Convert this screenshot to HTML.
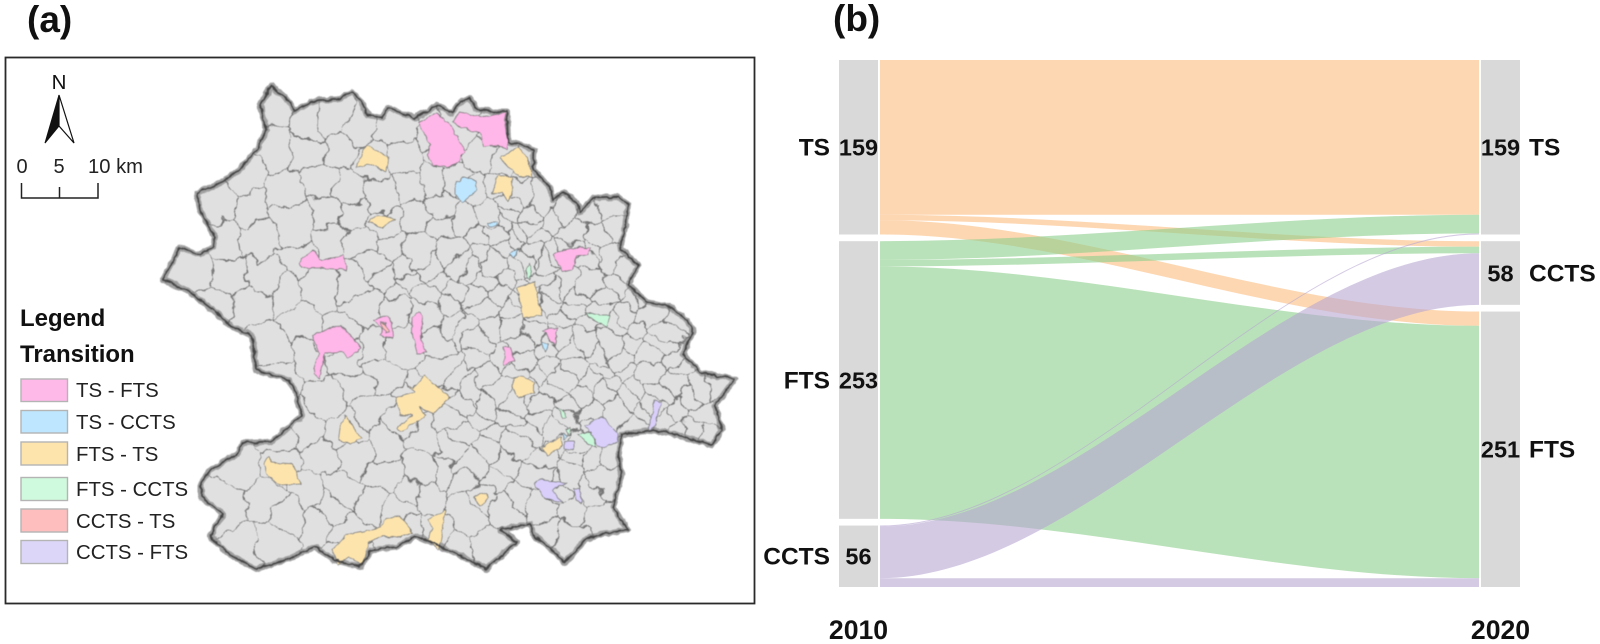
<!DOCTYPE html>
<html lang="en">
<head>
<meta charset="utf-8">
<title>Transition map and alluvial chart</title>
<style>
html,body{margin:0;padding:0;background:#fff;}
svg{display:block;font-family:"Liberation Sans",Arial,sans-serif;}
.b{font-weight:bold;fill:#111;}
.leg{font-size:20.4px;fill:#222;}
</style>
</head>
<body>
<svg xmlns="http://www.w3.org/2000/svg" width="1600" height="644" viewBox="0 0 1600 644">
<defs>
<filter id="rough" filterUnits="userSpaceOnUse" x="130" y="70" width="630" height="530" color-interpolation-filters="sRGB">
<feTurbulence type="fractalNoise" baseFrequency="0.13" numOctaves="2" seed="7" result="n"/>
<feDisplacementMap in="SourceGraphic" in2="n" scale="4.5" xChannelSelector="R" yChannelSelector="G"/>
<feGaussianBlur stdDeviation="0.45"/>
</filter>
<filter id="warp" filterUnits="userSpaceOnUse" x="130" y="70" width="630" height="530" color-interpolation-filters="sRGB">
<feTurbulence type="fractalNoise" baseFrequency="0.035" numOctaves="3" seed="21" result="w"/>
<feDisplacementMap in="SourceGraphic" in2="w" scale="24" xChannelSelector="R" yChannelSelector="G"/>
</filter>
<clipPath id="regionClip"><polygon id="clipPoly" points=""/></clipPath>
</defs>

<text class="b" x="27" y="32" font-size="37">(a)</text>
<text class="b" x="833" y="31" font-size="37">(b)</text>

<rect x="5.5" y="57.5" width="749" height="546" fill="#fff" stroke="#2a2a2a" stroke-width="1.8"/>

<g id="mapGroup" filter="url(#rough)">
<polygon id="haloPoly" points="" fill="#e0e0e0" stroke="#a0a0a0" stroke-width="6" stroke-linejoin="round"/>
<g clip-path="url(#regionClip)">
<g id="cells" filter="url(#warp)" fill="none" stroke="#727272" stroke-width="0.85"></g>
</g>
<g stroke="#777" stroke-width="0.7" stroke-linejoin="round">
<g fill="#ffb6e8">
<polygon points="418,122 437,113 452,127 460,142 465,150 458,163 447,167 433,165 428,155 430,145 423,133"/>
<polygon points="453,122 460,112 483,117 505,113 508,150 497,145 483,147 480,133 468,130 458,125"/>
<polygon points="553,255 563,250 578,247 590,248 588,255 577,257 572,270 563,272 557,262"/>
<polygon points="299,263 313,250 322,260 343,255 347,270 320,268 302,268"/>
<polygon points="373,320 387,315 392,323 393,338 380,337 383,328"/>
<polygon points="312,335 341,325 362,348 349,357 341,352 325,353 319,378 313,373 319,353"/>
<polygon points="412,317 420,312 423,318 421,336 426,353 417,353 412,333"/>
<polygon points="504,347 511,347 515,361 504,365"/>
<polygon points="543,330 558,328 554,345"/>
</g>
<g fill="#bee6ff">
<polygon points="455,185 463,177 475,180 477,190 462,203 455,195"/>
<polygon points="488,223 497,222 497,226 488,226"/>
<polygon points="510,255 518,248 515,257"/>
<polygon points="541,342 548,344 545,352"/>
<polygon points="561,433 567,435 565,440"/>
</g>
<g fill="#fde4ad">
<polygon points="500,158 517,148 528,157 532,177 520,177 508,167"/>
<polygon points="492,193 498,175 512,177 513,187 508,202 502,193"/>
<polygon points="517,287 535,282 537,297 542,315 523,318 520,300"/>
<polygon points="355,167 367,145 388,157 387,172 370,165"/>
<polygon points="368,222 378,216 395,218 383,227"/>
<polygon points="513,378 524,376 534,383 534,393 519,398 513,389"/>
<polygon points="406,383 413,388 425,375 437,387 450,397 434,414 419,407 426,416 400,432 397,428 412,415 400,415 395,398 415,392"/>
<polygon points="345,415 362,438 351,445 339,440 341,424"/>
<polygon points="269,456 271,462 293,464 301,484 280,485 269,477 264,465"/>
<polygon points="332,550 347,535 371,530 380,528 386,518 400,516 413,532 397,538 382,536 369,542 362,565 349,557 338,565"/>
<polygon points="428,520 445,510 443,526 439,550 428,540 432,528"/>
<polygon points="474,497 487,493 489,498 480,506"/>
<polygon points="541,448 561,437 563,445 548,455"/>
</g>
<g fill="#c9f7d9">
<polygon points="526,270 529,263 532,272 529,280"/>
<polygon points="585,312 597,315 610,315 607,327 593,320"/>
<polygon points="565,430 571,428 569,435"/>
<polygon points="556,406 567,416 563,418"/>
</g>
<g fill="#d9cffa">
<polygon points="585,426 602,416 617,433 617,443 600,448 591,436"/>
<polygon points="565,442 574,442 574,450 565,448"/>
<polygon points="654,400 661,402 656,426 648,430 652,416"/>
<polygon points="534,483 543,479 567,483 552,490 563,503 545,498"/>
<polygon points="574,488 580,488 582,503 576,500"/>
</g>
<polygon fill="#c9f7d9" points="578,433 591,432 597,448 585,442"/>
<polygon fill="#ffbebe" points="381,321 386,324 389,332 386,333"/>
</g>
<polygon id="borderPoly" points="" fill="none" stroke="#444" stroke-width="1.7" stroke-linejoin="round"/>
</g>

<g>
<text x="59" y="89" font-size="20.5" text-anchor="middle" fill="#111">N</text>
<polygon points="59,95 45,143 59,126" fill="#111" stroke="#111" stroke-width="1"/>
<polygon points="59,95 74,143 59,126" fill="#fff" stroke="#111" stroke-width="1.2"/>
</g>

<g>
<text x="22" y="173" font-size="20" text-anchor="middle" fill="#222">0</text>
<text x="59" y="173" font-size="20" text-anchor="middle" fill="#222">5</text>
<text x="88" y="173" font-size="20.2" fill="#222">10 km</text>
<path d="M21.5 183V198H98V183M59.5 187V198" fill="none" stroke="#222" stroke-width="1.5"/>
</g>

<g>
<text class="b" x="20" y="326" font-size="24">Legend</text>
<text class="b" x="20" y="362" font-size="24">Transition</text>
<g stroke="#b4b4b4" stroke-width="1.4">
<rect x="21" y="379" width="46.5" height="22.5" fill="#ffb9e8"/>
<rect x="21" y="410.5" width="46.5" height="22.5" fill="#bee6ff"/>
<rect x="21" y="442" width="46.5" height="23" fill="#fde4ad"/>
<rect x="21" y="477.5" width="46.5" height="23" fill="#cffadd"/>
<rect x="21" y="509" width="46.5" height="23" fill="#ffbebe"/>
<rect x="21" y="540.5" width="46.5" height="23" fill="#dcd6f9"/>
</g>
<text class="leg" x="76" y="397">TS - FTS</text>
<text class="leg" x="76" y="429">TS - CCTS</text>
<text class="leg" x="76" y="461">FTS - TS</text>
<text class="leg" x="76" y="496">FTS - CCTS</text>
<text class="leg" x="76" y="528">CCTS - TS</text>
<text class="leg" x="76" y="559">CCTS - FTS</text>
</g>

<g id="alluvial">
<g id="ribbons"></g>
<g id="nodes"></g>
<text class="b" x="858.5" y="639" font-size="26.6" text-anchor="middle">2010</text>
<text class="b" x="1500.5" y="639" font-size="26.6" text-anchor="middle">2020</text>
</g>

<script>
// ---- alluvial data ----
const leftCategories = ['TS', 'FTS', 'CCTS'];
const leftTotals = [159, 253, 56];
const rightCategories = ['TS', 'CCTS', 'FTS'];
const rightTotals = [159, 58, 251];
// each array lists the flow to TS, CCTS, FTS of 2020
const flowsFromTS = [141, 5, 13];
const flowsFromFTS = [17, 6, 230];
const flowsFromCCTS = [1, 47, 8];

// ---- map geometry (traced outline and township seed sites) ----
const outline = [[272,85],[277,92],[283,95],[295,110],[310,103],[320,100],[337,100],[352,92],[360,100],[368,115],[382,118],[388,108],[400,112],[415,118],[437,105],[452,113],[460,102],[470,98],[475,108],[493,112],[507,112],[508,142],[523,145],[534,150],[533,170],[550,187],[553,200],[563,192],[577,203],[580,213],[593,198],[618,197],[628,205],[625,227],[620,248],[638,265],[628,285],[647,302],[670,307],[687,320],[693,332],[683,353],[700,373],[735,379],[715,406],[722,430],[711,445],[678,435],[652,430],[621,435],[619,453],[621,477],[613,507],[628,530],[600,534],[585,540],[565,563],[552,550],[535,536],[530,524],[500,530],[517,542],[486,569],[456,553],[426,540],[415,536],[397,547],[371,550],[360,567],[334,560],[315,547],[286,560],[256,569],[227,553],[210,536],[223,514],[201,497],[201,483],[210,470],[238,453],[243,443],[271,442],[289,426],[302,416],[295,390],[289,380],[256,370],[252,336],[230,325],[213,310],[187,290],[163,280],[180,247],[200,255],[213,247],[215,237],[200,210],[197,193],[220,183],[240,170],[257,148],[267,130],[260,105]];
const townshipSites = [[280,112],[305,125],[335,120],[360,125],[395,130],[428,135],[445,155],[465,125],[490,130],[275,150],[305,155],[340,150],[375,160],[405,155],[430,180],[455,178],[485,155],[505,160],[525,165],[245,175],[215,205],[250,205],[285,190],[320,180],[350,185],[385,195],[410,190],[445,205],[470,195],[500,190],[520,190],[545,200],[565,210],[590,215],[610,210],[225,240],[260,240],[295,225],[325,215],[355,215],[385,225],[415,220],[440,230],[465,220],[490,215],[512,212],[530,225],[550,225],[575,235],[600,235],[615,225],[190,270],[225,280],[265,275],[300,255],[330,240],[360,245],[390,250],[420,255],[450,250],[475,240],[495,235],[515,240],[535,250],[558,255],[585,262],[610,258],[628,270],[215,305],[250,310],[285,295],[320,285],[355,280],[385,280],[410,285],[440,280],[470,270],[495,262],[515,265],[540,275],[565,285],[590,285],[615,290],[640,295],[270,345],[300,320],[335,335],[365,305],[395,310],[425,315],[450,305],[475,295],[500,295],[525,300],[550,305],[575,310],[600,310],[625,315],[650,315],[675,320],[280,380],[315,365],[345,360],[375,345],[405,345],[435,340],[465,330],[490,325],[510,325],[535,335],[560,335],[585,340],[610,340],[635,345],[660,345],[680,365],[325,400],[355,385],[385,375],[415,395],[445,365],[475,360],[500,360],[525,360],[550,365],[575,365],[600,370],[625,375],[650,375],[675,385],[700,390],[720,385],[275,430],[310,425],[345,430],[375,410],[400,425],[440,395],[470,390],[500,390],[530,390],[555,390],[580,395],[605,395],[630,400],[655,405],[680,410],[705,415],[240,465],[280,470],[320,460],[355,460],[385,440],[420,435],[450,420],[480,420],[510,415],[540,420],[565,415],[595,430],[635,425],[680,435],[710,435],[225,505],[265,500],[305,490],[345,490],[385,475],[420,470],[455,450],[490,450],[520,445],[555,445],[590,460],[610,450],[240,545],[275,535],[315,525],[350,530],[395,510],[430,500],[465,480],[500,480],[535,475],[570,475],[605,480],[350,555],[405,535],[435,530],[470,510],[505,515],[540,505],[575,505],[600,515],[460,545],[490,545],[545,535],[570,540],
[512,205],[527,212],[503,225],[520,232],[540,238],[505,248],[525,258],[548,262],[572,250],[596,250],[478,255],[460,265],[432,268],[402,268],[372,265],[484,282],[505,280],[528,287],[552,292],[578,297],[602,298],[628,302],[455,292],[428,298],[398,295],[485,310],[512,312],[538,318],[562,320],[588,325],[612,328],[640,330],[665,332],[452,322],[478,345],[522,345],[548,350],[572,350],[598,355],[622,360],[648,360],[670,358],[460,375],[488,375],[513,375],[538,378],[562,378],[588,382],[612,385],[638,388],[662,392],[690,400],[455,405],[485,405],[515,402],[543,405],[568,405],[592,410],[618,412],[643,415],[668,420],[695,428],[465,435],[495,435],[525,432],[552,432],[578,445],[470,465],[505,465],[540,460],[575,460],[480,500],[520,495],[555,490],[590,495],[445,470],[410,490],[370,505],[330,510],[290,515]];

const NS = 'http://www.w3.org/2000/svg';

// ---- map ----
const outlinePoints = outline.map(function (p) { return p.join(','); }).join(' ');
document.getElementById('clipPoly').setAttribute('points', outlinePoints);
document.getElementById('haloPoly').setAttribute('points', outlinePoints);
document.getElementById('borderPoly').setAttribute('points', outlinePoints);

function clipHalfPlane(poly, a, b) {
  const mx = (a[0] + b[0]) / 2, my = (a[1] + b[1]) / 2;
  const nx = b[0] - a[0], ny = b[1] - a[1];
  const out = [];
  for (let i = 0; i < poly.length; i++) {
    const p = poly[i], q = poly[(i + 1) % poly.length];
    const dp = (p[0] - mx) * nx + (p[1] - my) * ny;
    const dq = (q[0] - mx) * nx + (q[1] - my) * ny;
    if (dp <= 0) out.push(p);
    if ((dp < 0 && dq > 0) || (dp > 0 && dq < 0)) {
      const t = dp / (dp - dq);
      out.push([p[0] + (q[0] - p[0]) * t, p[1] + (q[1] - p[1]) * t]);
    }
  }
  return out;
}
const cellsGroup = document.getElementById('cells');
townshipSites.forEach(function (site) {
  let cell = [[140, 70], [760, 70], [760, 600], [140, 600]];
  townshipSites.forEach(function (other) {
    if (other !== site && cell.length) cell = clipHalfPlane(cell, site, other);
  });
  if (!cell.length) return;
  const el = document.createElementNS(NS, 'polygon');
  el.setAttribute('points', cell.map(function (p) { return p[0].toFixed(1) + ',' + p[1].toFixed(1); }).join(' '));
  
  
  cellsGroup.appendChild(el);
});

// ---- alluvial scales ----
const plotTop = 60, plotBottom = 587, stratumGap = 6.7;
const leftColX = 839, rightColX = 1481, colWidth = 39;
const flowLeftX = 880, flowRightX = 1479;
const grandTotal = leftTotals.reduce(function (s, v) { return s + v; }, 0);
const unit = (plotBottom - plotTop - 2 * stratumGap) / grandTotal;
function h(v) { return v * unit; }

function stackTops(totals) {
  const tops = [];
  let y = plotTop;
  totals.forEach(function (v) { tops.push(y); y += h(v) + stratumGap; });
  return tops;
}
const leftTops = stackTops(leftTotals);
const rightTops = stackTops(rightTotals);

// ---- strata ----
const nodesGroup = document.getElementById('nodes');
function drawStratum(x, top, value, cat, side) {
  const rect = document.createElementNS(NS, 'rect');
  rect.setAttribute('x', x);
  rect.setAttribute('y', top);
  rect.setAttribute('width', colWidth);
  rect.setAttribute('height', h(value));
  rect.setAttribute('fill', '#d9d9d9');
  
  
  nodesGroup.appendChild(rect);
  const base = top + h(value) / 2 + 8.4;
  const valueText = document.createElementNS(NS, 'text');
  valueText.setAttribute('x', x + colWidth / 2);
  valueText.setAttribute('y', base);
  valueText.setAttribute('text-anchor', 'middle');
  valueText.setAttribute('font-size', '23.5');
  valueText.setAttribute('class', 'b');
  
  
  valueText.textContent = value;
  nodesGroup.appendChild(valueText);
  const catText = document.createElementNS(NS, 'text');
  catText.setAttribute('x', side === 'left' ? 830 : 1529);
  catText.setAttribute('y', base);
  catText.setAttribute('text-anchor', side === 'left' ? 'end' : 'start');
  catText.setAttribute('font-size', '24.5');
  catText.setAttribute('class', 'b');
  
  
  catText.textContent = cat;
  nodesGroup.appendChild(catText);
}
leftCategories.forEach(function (c, i) { drawStratum(leftColX, leftTops[i], leftTotals[i], c, 'left'); });
rightCategories.forEach(function (c, i) { drawStratum(rightColX, rightTops[i], rightTotals[i], c, 'right'); });

// ---- flows ----
const ribbonsGroup = document.getElementById('ribbons');
const c1 = flowLeftX + (flowRightX - flowLeftX) / 3, c2 = flowLeftX + 2 * (flowRightX - flowLeftX) / 3;
const rightCursor = rightTops.slice();
function drawFlows(source, flows, fill) {
  let y = leftTops[leftCategories.indexOf(source)];
  flows.forEach(function (v, j) {
    const ya = y, yb = y + h(v);
    const ra = rightCursor[j], rb = ra + h(v);
    y = yb;
    rightCursor[j] = rb;
    const d = 'M' + flowLeftX + ' ' + ya +
      'C' + c1 + ' ' + ya + ' ' + c2 + ' ' + ra + ' ' + flowRightX + ' ' + ra +
      'L' + flowRightX + ' ' + rb +
      'C' + c2 + ' ' + rb + ' ' + c1 + ' ' + yb + ' ' + flowLeftX + ' ' + yb + 'Z';
    const path = document.createElementNS(NS, 'path');
    path.setAttribute('d', d);
    path.setAttribute('fill', fill);
    path.setAttribute('fill-opacity', '0.6');
    
    
    ribbonsGroup.appendChild(path);
  });
}
drawFlows('TS', flowsFromTS, '#fcbc7f');
drawFlows('FTS', flowsFromFTS, '#8ccf8c');
drawFlows('CCTS', flowsFromCCTS, '#b7a7d2');
</script>
</svg>
</body>
</html>
